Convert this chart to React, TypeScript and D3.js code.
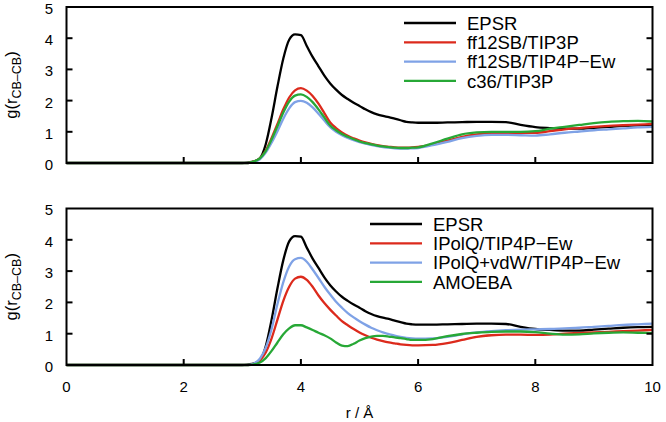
import React from "react";
import * as d3 from "d3";

const rGrid = [0, 3.0, 3.1, 3.2, 3.3, 3.4, 3.5, 3.6, 3.7, 3.8, 3.9, 4.0, 4.1, 4.2, 4.3, 4.4, 4.5, 4.6, 4.7, 4.8, 4.9, 5.0, 5.1, 5.2, 5.3, 5.4, 5.5, 5.6, 5.7, 5.8, 5.9, 6.0, 6.25, 6.5, 6.75, 7.0, 7.25, 7.5, 7.75, 8.0, 8.25, 8.5, 8.75, 9.0, 9.25, 9.5, 9.75, 10.0];

const epsr = [0, 0, 0.02, 0.05, 0.15, 0.6, 1.45, 2.45, 3.35, 3.95, 4.12, 4.1, 3.75, 3.4, 3.1, 2.8, 2.55, 2.35, 2.18, 2.05, 1.93, 1.83, 1.72, 1.63, 1.56, 1.51, 1.47, 1.42, 1.37, 1.32, 1.3, 1.29, 1.29, 1.3, 1.31, 1.32, 1.32, 1.31, 1.22, 1.15, 1.12, 1.1, 1.1, 1.13, 1.16, 1.19, 1.21, 1.22];

const ff12TIP3P = [0, 0, 0, 0.05, 0.15, 0.4, 0.8, 1.25, 1.72, 2.1, 2.33, 2.4, 2.32, 2.15, 1.9, 1.6, 1.3, 1.12, 0.98, 0.87, 0.79, 0.72, 0.66, 0.61, 0.57, 0.54, 0.52, 0.5, 0.49, 0.49, 0.5, 0.52, 0.6, 0.72, 0.84, 0.92, 0.96, 0.97, 0.97, 0.97, 1.02, 1.08, 1.12, 1.16, 1.19, 1.21, 1.23, 1.25];

const ff12TIP4PEw = [0, 0, 0, 0.04, 0.12, 0.33, 0.65, 1.02, 1.42, 1.75, 1.95, 1.99, 1.93, 1.78, 1.58, 1.36, 1.15, 1.0, 0.89, 0.8, 0.73, 0.67, 0.62, 0.58, 0.54, 0.51, 0.49, 0.47, 0.46, 0.46, 0.47, 0.48, 0.57, 0.68, 0.8, 0.87, 0.9, 0.9, 0.89, 0.88, 0.92, 0.97, 1.01, 1.05, 1.08, 1.11, 1.14, 1.16];

const c36TIP3P = [0, 0, 0, 0.05, 0.15, 0.38, 0.75, 1.18, 1.62, 1.97, 2.16, 2.2, 2.12, 1.95, 1.72, 1.46, 1.2, 1.05, 0.93, 0.84, 0.76, 0.69, 0.64, 0.6, 0.56, 0.53, 0.51, 0.49, 0.48, 0.48, 0.49, 0.5, 0.63, 0.78, 0.92, 0.98, 1.0, 1.0, 1.0, 1.02, 1.1, 1.16, 1.22, 1.28, 1.32, 1.34, 1.35, 1.33];

const ipolqTIP4PEw = [0, 0, 0, 0.04, 0.15, 0.4, 0.85, 1.45, 2.05, 2.5, 2.76, 2.82, 2.72, 2.5, 2.22, 1.98, 1.77, 1.58, 1.4, 1.27, 1.15, 1.04, 0.95, 0.87, 0.81, 0.76, 0.72, 0.69, 0.66, 0.64, 0.63, 0.63, 0.64, 0.7, 0.8, 0.9, 0.95, 0.97, 0.97, 0.96, 0.97, 1.0, 1.02, 1.04, 1.06, 1.08, 1.1, 1.12];

const ipolqVdwTIP4PEw = [0, 0, 0, 0.05, 0.2, 0.55, 1.15, 1.95, 2.65, 3.15, 3.38, 3.42, 3.3, 3.05, 2.78, 2.5, 2.25, 2.02, 1.83, 1.66, 1.52, 1.4, 1.29, 1.19, 1.11, 1.04, 0.99, 0.94, 0.9, 0.87, 0.85, 0.84, 0.85, 0.9, 0.98, 1.04, 1.08, 1.11, 1.13, 1.14, 1.15, 1.17, 1.19, 1.22, 1.25, 1.28, 1.3, 1.32];

const amoeba = [0, 0, 0, 0.02, 0.08, 0.22, 0.45, 0.72, 0.98, 1.17, 1.27, 1.27, 1.2, 1.12, 1.03, 0.95, 0.85, 0.72, 0.62, 0.6, 0.68, 0.78, 0.86, 0.91, 0.93, 0.93, 0.91, 0.88, 0.86, 0.83, 0.8, 0.8, 0.83, 0.92, 0.99, 1.03, 1.06, 1.07, 1.07, 1.05, 1.0, 0.97, 0.98, 1.01, 1.03, 1.04, 1.03, 1.02];

const topNames = ["EPSR", "ff12SB/TIP3P", "ff12SB/TIP4P\u2212Ew", "c36/TIP3P"];
const bottomNames = ["EPSR", "IPolQ/TIP4P\u2212Ew", "IPolQ+vdW/TIP4P\u2212Ew", "AMOEBA"];
const xTicks = [0, 2, 4, 6, 8, 10];
const yTicks = [0, 1, 2, 3, 4, 5];

const COLORS = ["#000000", "#dc2a1c", "#7fa2e6", "#27a836"];
const FONT = "'Liberation Sans', Arial, Helvetica, sans-serif";

const X0 = 66.5;
const X1 = 652.5;
const x = d3.scaleLinear().domain([0, 10]).range([X0, X1]);

type PanelProps = {
  top: number;
  bottom: number;
  series: number[][];
  names: string[];
  legendX: number;
  legendY: number;
  showXLabels: boolean;
};

function Panel({ top, bottom, series, names, legendX, legendY, showXLabels }: PanelProps) {
  const y = d3.scaleLinear().domain([0, 5]).range([bottom, top]);
  const line = d3
    .line<number>()
    .x((_, i) => x(rGrid[i]))
    .y((d) => y(d))
    .curve(d3.curveMonotoneX);
  const tl = 6;
  const rowH = 19.3;
  return (
    <g>
      {series.map((s, i) => (
        <path key={i} d={line(s) || ""} fill="none" stroke={COLORS[i]} strokeWidth={2.3} strokeLinejoin="round" />
      ))}
      <rect x={X0} y={top} width={X1 - X0} height={bottom - top} fill="none" stroke="#000" strokeWidth={2} />
      {yTicks.slice(1, -1).map((t) => (
        <g key={"yt" + t}>
          <line x1={X0} x2={X0 + tl} y1={y(t)} y2={y(t)} stroke="#000" strokeWidth={2} />
          <line x1={X1} x2={X1 - tl} y1={y(t)} y2={y(t)} stroke="#000" strokeWidth={2} />
        </g>
      ))}
      {yTicks.map((t) => (
        <text key={"yl" + t} x={53} y={y(t) + 6.9} textAnchor="end" fontSize={15} fontFamily={FONT}>
          {t}
        </text>
      ))}
      {xTicks.slice(1, -1).map((t) => (
        <line key={"xt" + t} x1={x(t)} x2={x(t)} y1={bottom} y2={bottom - tl} stroke="#000" strokeWidth={2} />
      ))}
      {showXLabels &&
        xTicks.map((t) => (
          <text key={"xl" + t} x={x(t)} y={bottom + 27} textAnchor="middle" fontSize={15} fontFamily={FONT}>
            {t}
          </text>
        ))}
      <text
        transform={`translate(17,${(top + bottom) / 2}) rotate(-90)`}
        textAnchor="middle"
        fontSize={16.5}
        fontFamily={FONT}
      >
        g(r
        <tspan fontSize={12.5} dy={4}>CB{"\u2013"}CB</tspan>
        <tspan dy={-4}>)</tspan>
      </text>
      {names.map((n, i) => (
        <g key={"lg" + i}>
          <line
            x1={legendX}
            x2={legendX + 52}
            y1={legendY + i * rowH}
            y2={legendY + i * rowH}
            stroke={COLORS[i]}
            strokeWidth={2.3}
          />
          <text x={legendX + 63} y={legendY + i * rowH + 6.6} fontSize={18.5} fontFamily={FONT}>
            {n}
          </text>
        </g>
      ))}
    </g>
  );
}

export default function App() {
  return (
    <svg
      width={666}
      height={422}
      viewBox="0 0 666 422"
      style={{ position: "absolute", left: 0, top: 0, background: "#fff" }}
    >
      <rect width={666} height={422} fill="#fff" />
      <Panel
        top={7}
        bottom={163}
        series={[epsr, ff12TIP3P, ff12TIP4PEw, c36TIP3P]}
        names={topNames}
        legendX={404}
        legendY={23}
        showXLabels={false}
      />
      <Panel
        top={208.5}
        bottom={365}
        series={[epsr, ipolqTIP4PEw, ipolqVdwTIP4PEw, amoeba]}
        names={bottomNames}
        legendX={370}
        legendY={224}
        showXLabels={true}
      />
      <text x={(X0 + X1) / 2} y={418} textAnchor="middle" fontSize={15} fontFamily={FONT}>
        r / {"\u00C5"}
      </text>
    </svg>
  );
}
